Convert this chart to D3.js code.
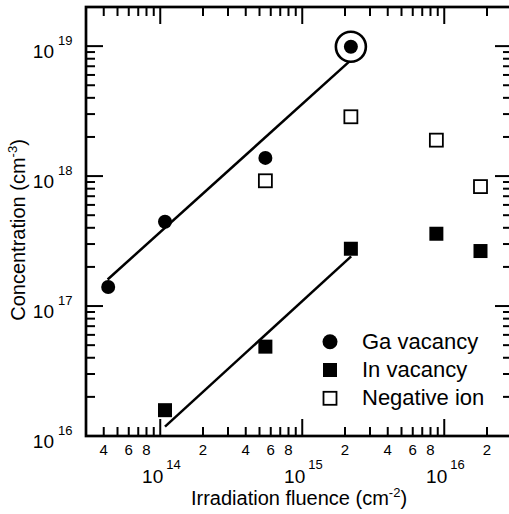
<!DOCTYPE html>
<html>
<head>
<meta charset="utf-8">
<script src="https://cdn.jsdelivr.net/npm/d3@7"></script>
<style>
  body { margin: 0; background: #fff; }
  text { font-family: "Liberation Sans", Arial, sans-serif; fill: #000; }
</style>
</head>
<body>
<div id="chart"></div>
<script>
let chart_width = 509;
let chart_height = 514;

//data
let ga_fluence = [4.3e13, 1.08e14, 5.5e14, 2.2e15];
let ga_conc = [1.4e17, 4.45e17, 1.38e18, 9.9e18];
let in_fluence = [1.08e14, 5.5e14, 2.2e15, 8.8e15, 1.8e16];
let in_conc = [1.58e16, 4.87e16, 2.76e17, 3.6e17, 2.65e17];
let neg_fluence = [5.5e14, 2.2e15, 8.8e15, 1.8e16];
let neg_conc = [9.2e17, 2.86e18, 1.89e18, 8.3e17];

//fitted lines (start / end)
let ga_fit_x = [4.26e13, 2.2e15];
let ga_fit_y = [1.6e17, 7.8e18];
let in_fit_x = [1.08e14, 2.21e15];
let in_fit_y = [1.18e16, 2.41e17];

let legend_labels = ["Ga vacancy", "In vacancy", "Negative ion"];
let x_decades = [1e14, 1e15, 1e16];
let x_minor_labels = [2, 4, 6, 8];
let y_decades = [1e16, 1e17, 1e18, 1e19];

let svg = d3
  .select("#chart")
  .append("svg")
  .attr("width", chart_width)
  .attr("height", chart_height);

//scales - right edge of the frame sits just outside the picture
let x = d3.scaleLog().domain([3e13, 3e16]).range([86, 512]);
let y = d3.scaleLog().domain([1e16, 2e19]).range([436, 7]);

//all minor/major tick positions
function logTicks(scale) {
  let d = scale.domain();
  let out = [];
  for (let e = Math.floor(Math.log10(d[0])); e <= Math.ceil(Math.log10(d[1])); e++) {
    for (let m = 1; m < 10; m++) {
      let v = m * Math.pow(10, e);
      if (v >= d[0] * 0.999 && v <= d[1] * 1.001) out.push({ v: v, major: m == 1, m: m });
    }
  }
  return out;
}

let xt = logTicks(x);
let yt = logTicks(y);
let major_len = 17;
let minor_len = 9;

let ticks = svg.append("g").attr("stroke", "#000").attr("stroke-width", 2);

//bottom + top ticks
ticks.selectAll(".xb").data(xt).enter().append("line")
  .attr("x1", d => x(d.v)).attr("x2", d => x(d.v))
  .attr("y1", 436).attr("y2", d => 436 - (d.major ? major_len : minor_len));
ticks.selectAll(".xt").data(xt).enter().append("line")
  .attr("x1", d => x(d.v)).attr("x2", d => x(d.v))
  .attr("y1", 7).attr("y2", d => 7 + (d.major ? major_len : minor_len));

//left + right ticks
ticks.selectAll(".yl").data(yt).enter().append("line")
  .attr("y1", d => y(d.v)).attr("y2", d => y(d.v))
  .attr("x1", 86).attr("x2", d => 86 + (d.major ? major_len : minor_len));
ticks.selectAll(".yr").data(yt).enter().append("line")
  .attr("y1", d => y(d.v)).attr("y2", d => y(d.v))
  .attr("x1", 512).attr("x2", d => 512 - (d.major ? major_len : minor_len));

//frame
svg.append("rect")
  .attr("x", 86).attr("y", 7)
  .attr("width", 512 - 86).attr("height", 436 - 7)
  .attr("fill", "none").attr("stroke", "#000").attr("stroke-width", 2.7);

//x tick labels
svg.selectAll(".xminor")
  .data(xt.filter(d => x_minor_labels.includes(d.m)))
  .enter().append("text")
  .attr("x", d => x(d.v)).attr("y", 455)
  .attr("text-anchor", "middle").attr("font-size", 15)
  .text(d => d.m);

x_decades.forEach(function (v) {
  svg.append("text").attr("x", x(v) + 3).attr("y", 483)
    .attr("text-anchor", "end").attr("font-size", 19).text("10");
  svg.append("text").attr("x", x(v) + 6).attr("y", 469)
    .attr("font-size", 13).text(Math.round(Math.log10(v)));
});

//y tick labels
y_decades.forEach(function (v) {
  svg.append("text").attr("x", 54).attr("y", y(v) + 11.5)
    .attr("text-anchor", "end").attr("font-size", 19).text("10");
  svg.append("text").attr("x", 58).attr("y", y(v) - 1)
    .attr("font-size", 13).text(Math.round(Math.log10(v)));
});

//axis titles
let xtitle = svg.append("text").attr("x", 299).attr("y", 505)
  .attr("text-anchor", "middle").attr("font-size", 20);
xtitle.append("tspan").text("Irradiation fluence (cm");
xtitle.append("tspan").attr("font-size", 13).attr("dy", -8).text("-2");
xtitle.append("tspan").attr("dy", 8).text(")");

let ytitle = svg.append("text")
  .attr("transform", "translate(25,230) rotate(-90)")
  .attr("text-anchor", "middle").attr("font-size", 20);
ytitle.append("tspan").text("Concentration (cm");
ytitle.append("tspan").attr("font-size", 13).attr("dy", -8).text("-3");
ytitle.append("tspan").attr("dy", 8).text(")");

//fit lines
svg.append("line")
  .attr("x1", x(ga_fit_x[0])).attr("y1", y(ga_fit_y[0]))
  .attr("x2", x(ga_fit_x[1])).attr("y2", y(ga_fit_y[1]))
  .attr("stroke", "#000").attr("stroke-width", 2.5);
svg.append("line")
  .attr("x1", x(in_fit_x[0])).attr("y1", y(in_fit_y[0]))
  .attr("x2", x(in_fit_x[1])).attr("y2", y(in_fit_y[1]))
  .attr("stroke", "#000").attr("stroke-width", 2.5);

//ring around the highest Ga point
svg.append("circle")
  .attr("cx", x(ga_fluence[3])).attr("cy", y(ga_conc[3]))
  .attr("r", 15).attr("fill", "#fff")
  .attr("stroke", "#000").attr("stroke-width", 2.6);

//Ga vacancy - filled circles
svg.selectAll(".ga").data(ga_fluence).enter().append("circle")
  .attr("cx", d => x(d)).attr("cy", (d, i) => y(ga_conc[i]))
  .attr("r", 7).attr("fill", "#000");

//In vacancy - filled squares
svg.selectAll(".in").data(in_fluence).enter().append("rect")
  .attr("x", d => x(d) - 7).attr("y", (d, i) => y(in_conc[i]) - 7)
  .attr("width", 14).attr("height", 14).attr("fill", "#000");

//Negative ion - open squares
svg.selectAll(".neg").data(neg_fluence).enter().append("rect")
  .attr("x", d => x(d) - 6.5).attr("y", (d, i) => y(neg_conc[i]) - 6.5)
  .attr("width", 13).attr("height", 13)
  .attr("fill", "#fff").attr("stroke", "#000").attr("stroke-width", 1.8);

//legend
let legend = svg.append("g");
legend_labels.forEach(function (label, i) {
  let cy = 341.7 + i * 28.3;
  if (i == 0) {
    legend.append("circle").attr("cx", 330).attr("cy", cy).attr("r", 7.5).attr("fill", "#000");
  } else if (i == 1) {
    legend.append("rect").attr("x", 323).attr("y", cy - 7).attr("width", 14).attr("height", 14).attr("fill", "#000");
  } else {
    legend.append("rect").attr("x", 323.5).attr("y", cy - 6.5).attr("width", 13).attr("height", 13)
      .attr("fill", "#fff").attr("stroke", "#000").attr("stroke-width", 1.8);
  }
  legend.append("text").attr("x", 362).attr("y", cy + 7)
    .attr("font-size", 22).text(label);
});
</script>
</body>
</html>
